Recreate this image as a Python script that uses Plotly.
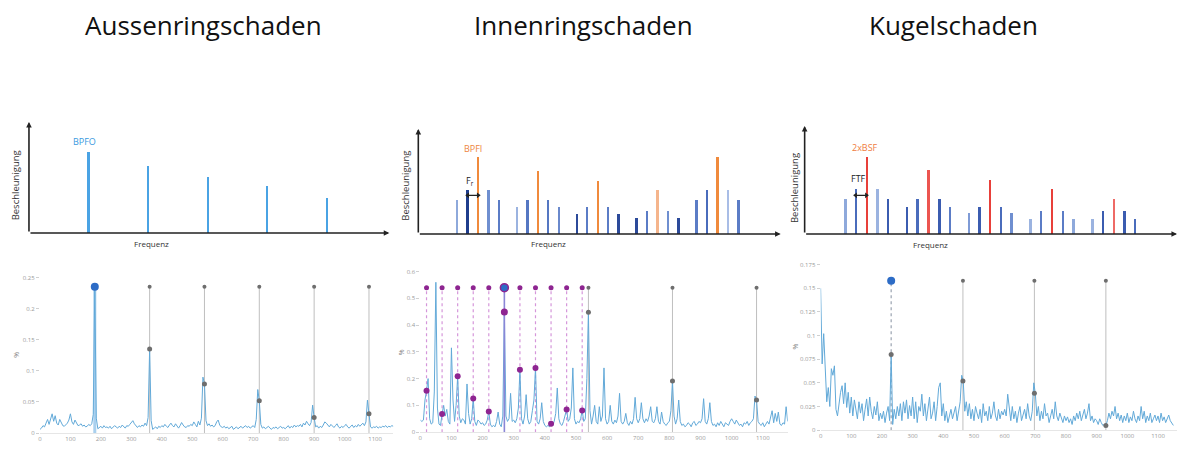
import plotly.graph_objects as go

# The page body has an 8 px margin, so the figure is drawn 8 px in from the window corner.
OFF = 8
FW, FH = 1178, 442

# ---------------- text ----------------
titles = ["Aussenringschaden", "Innenringschaden", "Kugelschaden"]
title_x_px = [202, 582, 953]

# ---------------- schematic spectra (top row) ----------------
p1_freq = [1, 2, 3, 4, 5]
p1_amp = [82, 68, 57, 47, 35]

p2_freq = [0.65, 0.825, 1.0, 1.175, 1.35,
           1.65, 1.825, 2.0, 2.175, 2.35,
           2.65, 2.825, 3.0, 3.175, 3.35,
           3.65, 3.825, 4.0, 4.175, 4.35,
           4.65, 4.825, 5.0, 5.175, 5.35]
p2_amp = [34, 44, 78, 44, 34,
          27, 34, 64, 34, 27,
          20, 27, 54, 27, 20,
          16, 23, 44, 23, 16,
          34, 44, 78, 44, 34]

p3_freq = [0.655, 0.825, 1.0, 1.175, 1.345,
           1.655, 1.825, 2.0, 2.175, 2.345,
           2.655, 2.825, 3.0, 3.175, 3.345,
           3.655, 3.825, 4.0, 4.175, 4.345,
           4.655, 4.825, 5.0, 5.175, 5.345]
p3_amp = [35, 45, 78, 45, 35,
          27, 35, 65, 35, 27,
          21, 27, 55, 27, 21,
          15, 23, 45, 23, 15,
          15, 23, 35, 23, 15]

# ---------------- measured envelope spectra (bottom row), bins of 5 Hz ----------------
p4_amp = [
    0.006, 0.008, 0.012, 0.010, 0.016, 0.022, 0.014, 0.024, 0.031, 0.019, 0.028, 0.016, 0.013, 0.022, 0.017, 0.012, 0.011, 0.014, 0.016, 0.021,
    0.031, 0.018, 0.014, 0.021, 0.016, 0.012, 0.013, 0.015, 0.011, 0.013, 0.010, 0.011, 0.014, 0.012, 0.015, 0.030, 0.235, 0.024, 0.007, 0.009,
    0.011, 0.008, 0.012, 0.009, 0.010, 0.008, 0.011, 0.007, 0.009, 0.012, 0.010, 0.008, 0.011, 0.009, 0.013, 0.010, 0.008, 0.012, 0.011, 0.014,
    0.017, 0.020, 0.015, 0.011, 0.009, 0.012, 0.010, 0.013, 0.011, 0.016, 0.012, 0.025, 0.135, 0.020, 0.006, 0.008, 0.010, 0.007, 0.011, 0.009,
    0.012, 0.010, 0.014, 0.011, 0.009, 0.013, 0.016, 0.012, 0.010, 0.015, 0.011, 0.008, 0.012, 0.017, 0.013, 0.010, 0.009, 0.012, 0.011, 0.014,
    0.012, 0.018, 0.014, 0.010, 0.019, 0.013, 0.024, 0.090, 0.079, 0.020, 0.012, 0.015, 0.011, 0.013, 0.010, 0.012, 0.018, 0.021, 0.013, 0.010,
    0.009, 0.011, 0.008, 0.010, 0.007, 0.009, 0.011, 0.006, 0.008, 0.010, 0.007, 0.009, 0.011, 0.008, 0.010, 0.012, 0.009, 0.011, 0.008, 0.010,
    0.012, 0.009, 0.022, 0.070, 0.052, 0.014, 0.008, 0.010, 0.007, 0.009, 0.011, 0.008, 0.006, 0.009, 0.008, 0.010, 0.007, 0.009, 0.011, 0.008,
    0.009, 0.007, 0.010, 0.012, 0.008, 0.011, 0.009, 0.013, 0.010, 0.012, 0.011, 0.014, 0.010, 0.016, 0.013, 0.019, 0.015, 0.012, 0.017, 0.045,
    0.025, 0.010, 0.012, 0.008, 0.011, 0.009, 0.013, 0.018, 0.016, 0.012, 0.010, 0.014, 0.011, 0.009, 0.012, 0.015, 0.010, 0.008, 0.011, 0.009,
    0.012, 0.014, 0.010, 0.008, 0.011, 0.013, 0.009, 0.012, 0.010, 0.014, 0.011, 0.013, 0.016, 0.012, 0.018, 0.053, 0.031, 0.010, 0.008, 0.010,
    0.009, 0.011, 0.008, 0.010, 0.009, 0.011, 0.010, 0.012, 0.009, 0.011, 0.010, 0.012, 0.011,
]
p4_harm = [180, 360, 540, 720, 900, 1080]
p4_harm_val = [0.235, 0.135, 0.079, 0.052, 0.025, 0.031]
p4_top = 0.235

p5_amp = [
    0.045, 0.040, 0.045, 0.120, 0.155, 0.200, 0.050, 0.030, 0.035, 0.150, 0.560, 0.090, 0.030, 0.025, 0.068, 0.100, 0.060, 0.085, 0.040, 0.030,
    0.315, 0.120, 0.040, 0.100, 0.209, 0.060, 0.035, 0.050, 0.045, 0.030, 0.180, 0.070, 0.030, 0.050, 0.126, 0.040, 0.025, 0.045, 0.040, 0.030,
    0.035, 0.025, 0.030, 0.045, 0.077, 0.030, 0.020, 0.025, 0.020, 0.040, 0.075, 0.030, 0.020, 0.060, 0.449, 0.060, 0.040, 0.050, 0.145, 0.040,
    0.045, 0.035, 0.050, 0.090, 0.233, 0.050, 0.030, 0.060, 0.140, 0.050, 0.030, 0.040, 0.080, 0.120, 0.240, 0.040, 0.030, 0.050, 0.110, 0.040,
    0.025, 0.020, 0.025, 0.020, 0.031, 0.025, 0.040, 0.070, 0.165, 0.050, 0.030, 0.025, 0.040, 0.060, 0.085, 0.040, 0.050, 0.090, 0.240, 0.050,
    0.030, 0.040, 0.035, 0.050, 0.081, 0.040, 0.050, 0.200, 0.448, 0.080, 0.030, 0.060, 0.100, 0.040, 0.030, 0.095, 0.040, 0.060, 0.240, 0.050,
    0.030, 0.040, 0.100, 0.040, 0.030, 0.045, 0.035, 0.060, 0.145, 0.040, 0.030, 0.040, 0.070, 0.035, 0.025, 0.040, 0.030, 0.050, 0.130, 0.050,
    0.035, 0.050, 0.110, 0.050, 0.035, 0.050, 0.040, 0.060, 0.095, 0.040, 0.035, 0.050, 0.095, 0.040, 0.030, 0.075, 0.040, 0.030, 0.025, 0.035,
    0.040, 0.080, 0.191, 0.060, 0.030, 0.050, 0.120, 0.040, 0.025, 0.030, 0.020, 0.025, 0.035, 0.030, 0.020, 0.035, 0.040, 0.025, 0.030, 0.040,
    0.035, 0.050, 0.125, 0.040, 0.030, 0.050, 0.110, 0.040, 0.025, 0.030, 0.020, 0.035, 0.025, 0.040, 0.030, 0.020, 0.035, 0.030, 0.025, 0.040,
    0.050, 0.040, 0.030, 0.045, 0.035, 0.025, 0.030, 0.020, 0.035, 0.030, 0.040, 0.025, 0.035, 0.040, 0.050, 0.135, 0.120, 0.040, 0.030, 0.025,
    0.035, 0.020, 0.030, 0.040, 0.030, 0.050, 0.080, 0.035, 0.070, 0.040, 0.075, 0.030, 0.025, 0.035, 0.030, 0.095, 0.040,
]
p5_bpfi = 270
p5_bpfi_val = 0.449
p5_sb = [20, 70, 120, 170, 220, 320, 370, 420, 470, 520]
p5_sb_val = [0.155, 0.068, 0.209, 0.126, 0.077, 0.233, 0.240, 0.031, 0.085, 0.081]
p5_harm = [540, 810, 1080]
p5_harm_val = [0.448, 0.191, 0.120]
p5_top = 0.54

p6_amp = [
    0.150, 0.070, 0.102, 0.055, 0.030, 0.045, 0.025, 0.065, 0.058, 0.068, 0.022, 0.015, 0.028, 0.040, 0.047, 0.028, 0.050, 0.024, 0.040, 0.018,
    0.035, 0.015, 0.032, 0.020, 0.012, 0.030, 0.018, 0.028, 0.010, 0.022, 0.033, 0.015, 0.035, 0.020, 0.012, 0.025, 0.016, 0.030, 0.010, 0.018,
    0.012, 0.020, 0.008, 0.018, 0.025, 0.010, 0.080, 0.006, 0.022, 0.012, 0.025, 0.015, 0.028, 0.010, 0.030, 0.018, 0.032, 0.012, 0.026, 0.015,
    0.035, 0.012, 0.030, 0.008, 0.025, 0.020, 0.038, 0.015, 0.028, 0.010, 0.022, 0.035, 0.012, 0.018, 0.030, 0.010, 0.025, 0.045, 0.050, 0.015,
    0.028, 0.010, 0.020, 0.008, 0.015, 0.022, 0.012, 0.018, 0.025, 0.010, 0.020, 0.030, 0.058, 0.052, 0.020, 0.030, 0.015, 0.028, 0.012, 0.022,
    0.010, 0.025, 0.018, 0.012, 0.022, 0.008, 0.028, 0.015, 0.020, 0.010, 0.025, 0.012, 0.018, 0.030, 0.015, 0.010, 0.022, 0.012, 0.020, 0.016,
    0.022, 0.015, 0.038, 0.020, 0.010, 0.025, 0.012, 0.020, 0.008, 0.018, 0.025, 0.010, 0.015, 0.022, 0.012, 0.028, 0.015, 0.010, 0.020, 0.050,
    0.039, 0.015, 0.025, 0.010, 0.020, 0.012, 0.028, 0.015, 0.018, 0.008, 0.015, 0.022, 0.012, 0.030, 0.015, 0.010, 0.018, 0.012, 0.008, 0.015,
    0.010, 0.014, 0.008, 0.012, 0.006, 0.015, 0.010, 0.018, 0.012, 0.020, 0.010, 0.016, 0.022, 0.012, 0.018, 0.028, 0.010, 0.015, 0.008, 0.012,
    0.010, 0.006, 0.012, 0.008, 0.005, 0.006, 0.005, 0.010, 0.018, 0.012, 0.020, 0.015, 0.025, 0.012, 0.018, 0.010, 0.016, 0.008, 0.015, 0.010,
    0.018, 0.008, 0.014, 0.010, 0.020, 0.012, 0.008, 0.015, 0.010, 0.025, 0.012, 0.020, 0.008, 0.015, 0.010, 0.018, 0.008, 0.012, 0.016, 0.010,
    0.015, 0.008, 0.018, 0.010, 0.014, 0.008, 0.012, 0.016, 0.010, 0.008, 0.005,
]
p6_harm = [230, 464, 697, 930]
p6_harm_val = [0.080, 0.052, 0.039, 0.005]
p6_top = 0.158

BIN = 5  # Hz per spectral bin

# ---------------- styles ----------------
FONT = "Open Sans"
p1_colors = ["#4aa3e4"] * 5
p2_colors = ["#8ea9db", "#1f3d8c", "#f08a3c", "#6f8fd0", "#5b7cc6",
             "#9bb3e0", "#5577c2", "#f08a3c", "#5577c2", "#6a89cc",
             "#2c4a9a", "#5b7cc6", "#f08a3c", "#5b7cc6", "#2c4a9a",
             "#2c4a9a", "#5b7cc6", "#f5b58c", "#6f8fd0", "#2c4a9a",
             "#5b7cc6", "#4a6cbc", "#f08a3c", "#a9bde6", "#5b7cc6"]
p3_colors = ["#8ea9db", "#4a6cbc", "#e8403a", "#9bb3e0", "#3b5cb0",
             "#3b5cb0", "#4a6cbc", "#ec5550", "#3b5cb0", "#5b7cc6",
             "#7f9bd6", "#3b5cb0", "#e8403a", "#4a6cbc", "#6f8fd0",
             "#9bb3e0", "#5b7cc6", "#e8403a", "#5b7cc6", "#8ea9db",
             "#9bb3e0", "#3b5cb0", "#ee6a66", "#3b5cb0", "#4a6cbc"]
SPEC = "#62a9d8"
GREYLINE = "#b8b8b8"
GREYMK = "#6e6e6e"
PURPLE = "#8e2591"
PURPLE_LINE = "#d596da"
BLUEMK = "#2d6cc6"


def px2x(px):
    return (px - OFF) / FW


def py2y(py):
    return 1 - (py - OFF) / FH


fig = go.Figure()

# ---------- top row bars ----------
for i, (fx, amp, cols) in enumerate([(p1_freq, p1_amp, p1_colors),
                                     (p2_freq, p2_amp, p2_colors),
                                     (p3_freq, p3_amp, p3_colors)]):
    n = i + 1
    fig.add_trace(go.Bar(x=fx, y=amp, width=0.04,
                         marker=dict(color=cols, line=dict(width=0)),
                         xaxis=f"x{n}", yaxis=f"y{n}", showlegend=False, hoverinfo="skip"))

# double arrows marking the sideband spacing (between first sideband and the fault line)
for (fx, n) in [(p2_freq, 2), (p3_freq, 3)]:
    fig.add_trace(go.Scatter(x=[fx[1], fx[2]], y=[39, 39], mode="lines+markers",
                             line=dict(color="#222222", width=1.3),
                             marker=dict(symbol=["triangle-left", "triangle-right"], size=5,
                                         color="#222222"),
                             xaxis=f"x{n}", yaxis=f"y{n}", showlegend=False, hoverinfo="skip"))


def vlines(xs, top, color, width, dash, xa, ya):
    xx, yy = [], []
    for h in xs:
        xx += [h, h, None]
        yy += [0, top, None]
    return go.Scatter(x=xx, y=yy, mode="lines", line=dict(color=color, width=width, dash=dash),
                      xaxis=xa, yaxis=ya, showlegend=False, hoverinfo="skip")


def markers(xs, ys, color, size, xa, ya, line=None):
    return go.Scatter(x=xs, y=ys, mode="markers",
                      marker=dict(color=color, size=size, line=line or dict(width=0)),
                      xaxis=xa, yaxis=ya, showlegend=False, hoverinfo="skip")


# ---------- panel 4 ----------
fig.add_trace(vlines(p4_harm[1:], p4_top, GREYLINE, 0.9, "solid", "x4", "y4"))
fig.add_trace(vlines(p4_harm[:1], p4_top, "#a9d0ee", 3, "solid", "x4", "y4"))
fig.add_trace(go.Scatter(y=p4_amp, x0=0, dx=BIN, mode="lines", line=dict(color=SPEC, width=1),
                         xaxis="x4", yaxis="y4", showlegend=False, hoverinfo="skip"))
fig.add_trace(markers(p4_harm[1:], [p4_top] * (len(p4_harm) - 1), GREYMK, 4, "x4", "y4"))
fig.add_trace(markers(p4_harm[1:], p4_harm_val[1:], GREYMK, 5, "x4", "y4"))
fig.add_trace(markers(p4_harm[:1], [p4_top], BLUEMK, 8, "x4", "y4"))

# ---------- panel 5 ----------
fig.add_trace(vlines(p5_harm, p5_top, GREYLINE, 0.9, "solid", "x5", "y5"))
fig.add_trace(vlines(p5_sb, p5_top, PURPLE_LINE, 1.2, "dot", "x5", "y5"))
fig.add_trace(go.Scatter(y=p5_amp, x0=0, dx=BIN, mode="lines", line=dict(color=SPEC, width=1),
                         xaxis="x5", yaxis="y5", showlegend=False, hoverinfo="skip"))
fig.add_trace(vlines([p5_bpfi], p5_top, "#8a86d6", 1.6, "solid", "x5", "y5"))
fig.add_trace(markers(p5_sb, [p5_top] * len(p5_sb), PURPLE, 5, "x5", "y5"))
fig.add_trace(markers(p5_sb, p5_sb_val, PURPLE, 6, "x5", "y5"))
fig.add_trace(markers([p5_bpfi], [p5_bpfi_val], PURPLE, 7, "x5", "y5"))
fig.add_trace(markers(p5_harm, [p5_top] * len(p5_harm), GREYMK, 4, "x5", "y5"))
fig.add_trace(markers(p5_harm, p5_harm_val, GREYMK, 5, "x5", "y5"))
fig.add_trace(markers([p5_bpfi], [p5_top], BLUEMK, 8, "x5", "y5", line=dict(color=PURPLE, width=1.5)))

# ---------- panel 6 ----------
fig.add_trace(vlines(p6_harm[1:], p6_top, GREYLINE, 0.9, "solid", "x6", "y6"))
fig.add_trace(vlines(p6_harm[:1], p6_top, "#9aa3b0", 1.2, "dot", "x6", "y6"))
fig.add_trace(go.Scatter(y=p6_amp, x0=0, dx=BIN, mode="lines", line=dict(color=SPEC, width=1),
                         xaxis="x6", yaxis="y6", showlegend=False, hoverinfo="skip"))
fig.add_trace(markers(p6_harm[1:], [p6_top] * (len(p6_harm) - 1), GREYMK, 4, "x6", "y6"))
fig.add_trace(markers(p6_harm, p6_harm_val, GREYMK, 5, "x6", "y6"))
fig.add_trace(markers(p6_harm[:1], [p6_top], BLUEMK, 8, "x6", "y6"))

# ---------- axes ----------
hidden = dict(visible=False, showgrid=False, zeroline=False, fixedrange=True)
layout_axes = {}
top_specs = [  # x domain px, x range, y domain px (bottom, top), y range
    ((27, 388), [0, 6.05], (235, 123), [0, 112]),
    ((417, 780), [0, 6.05], (236, 130), [0, 106]),
    ((804, 1177), [0, 6.03], (236, 127), [0, 109]),
]
for i, (xd, xr, yd, yr) in enumerate(top_specs):
    n = i + 1
    layout_axes[f"xaxis{n}"] = dict(hidden, domain=[px2x(xd[0]), px2x(xd[1])], range=xr, anchor=f"y{n}")
    layout_axes[f"yaxis{n}"] = dict(hidden, domain=[py2y(yd[0]), py2y(yd[1])], range=yr, anchor=f"x{n}")

tickfont = dict(family=FONT, size=6, color="#9a9a9a")
bot_specs = [
    ((38, 392), [0, 1160], (437, 273.7), [0, 0.26], 0.05),
    ((419, 787), [0, 1180], (436, 268.6), [0, 0.62], 0.1),
    ((820, 1177), [0, 1162], (434, 262.2), [0, 0.18], 0.025),
]
for i, (xd, xr, yd, yr, dy) in enumerate(bot_specs):
    n = i + 4
    layout_axes[f"xaxis{n}"] = dict(domain=[px2x(xd[0]), px2x(xd[1])], range=xr, anchor=f"y{n}",
                                    tickmode="linear", tick0=0, dtick=100, ticks="", tickfont=tickfont,
                                    showgrid=False, zeroline=False, showline=True, linecolor="#e6e6e6",
                                    linewidth=1, fixedrange=True)
    layout_axes[f"yaxis{n}"] = dict(domain=[py2y(yd[0]), py2y(yd[1])], range=yr, anchor=f"x{n}",
                                    tickmode="linear", tick0=0, dtick=dy, ticks="outside", ticklen=3,
                                    tickcolor="#d0d0d0", tickfont=tickfont, showgrid=False,
                                    zeroline=False, showline=False, fixedrange=True)

annotations = []


def label(text, xp, yp, font, angle=0):
    return dict(text=text, x=px2x(xp), y=py2y(yp), xref="paper", yref="paper", showarrow=False,
                textangle=angle, font=font, xanchor="center", yanchor="middle")


# titles
for t, xp in zip(titles, title_x_px):
    annotations.append(label(t, xp, 25, dict(family=FONT, size=26, color="#111111")))

# schematic axes arrows
for i, (xd, xr, yd, yr) in enumerate(top_specs):
    n = i + 1
    for (hx, hy) in [(xr[1], 0), (0, yr[1])]:
        annotations.append(dict(x=hx, y=hy, ax=0, ay=0, xref=f"x{n}", yref=f"y{n}",
                                axref=f"x{n}", ayref=f"y{n}", text="", showarrow=True,
                                arrowhead=2, arrowsize=0.7, arrowwidth=1.6, arrowcolor="#222222"))

# schematic axis labels
ylab_font = dict(family=FONT, size=9.5, color="#333333")
xlab_font = dict(family=FONT, size=8, color="#333333")
for (bx, by, fxp, fyp) in [(13, 187, 150, 246), (404, 187, 547, 246), (794, 190, 930, 247)]:
    annotations.append(label("Beschleunigung", bx, by, ylab_font, angle=-90))
    annotations.append(label("Frequenz", fxp, fyp, xlab_font))

# schematic frequency labels
annotations.append(dict(text="BPFO", x=0.94, y=92, xref="x1", yref="y1", showarrow=False,
                        font=dict(family=FONT, size=9, color="#3a9ae0")))
annotations.append(dict(text="BPFI", x=0.92, y=86, xref="x2", yref="y2", showarrow=False,
                        font=dict(family=FONT, size=9, color="#ee8640")))
annotations.append(dict(text="F<sub>r</sub>", x=0.86, y=53, xref="x2", yref="y2", showarrow=False,
                        font=dict(family=FONT, size=9, color="#222222")))
annotations.append(dict(text="2xBSF", x=0.97, y=87, xref="x3", yref="y3", showarrow=False,
                        font=dict(family=FONT, size=9, color="#ef7c3e")))
annotations.append(dict(text="FTF", x=0.87, y=56, xref="x3", yref="y3", showarrow=False,
                        font=dict(family=FONT, size=9, color="#222222")))

# "%" axis labels of the bottom row
for (xp, yp) in [(15, 358), (401, 355), (795, 350)]:
    annotations.append(label("%", xp, yp, dict(family=FONT, size=7, color="#888888"), angle=-90))

fig.update_layout(width=FW, height=FH, autosize=False, margin=dict(l=0, r=0, t=0, b=0),
                  paper_bgcolor="white", plot_bgcolor="white", bargap=0, barmode="overlay",
                  annotations=annotations, showlegend=False, **layout_axes)

fig.write_html("out.html")
